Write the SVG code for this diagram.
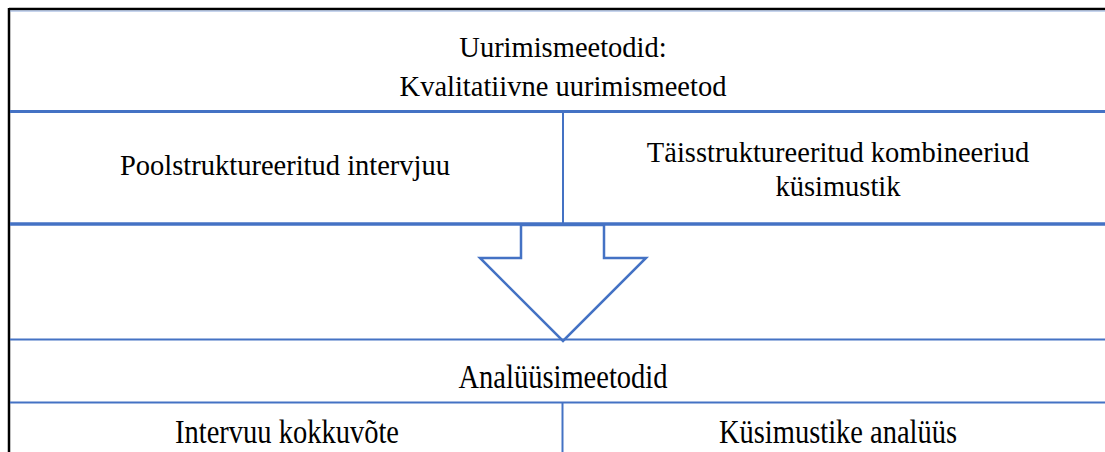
<svg xmlns="http://www.w3.org/2000/svg" width="1105" height="452" viewBox="0 0 1105 452">
<style>
.t{font-family:"Liberation Serif","Times New Roman",serif;font-size:28.5px;fill:#000;text-anchor:middle}
.b{stroke:#4472c4;fill:none}
.k{stroke:#000;stroke-width:2.5;fill:none}
</style>
<rect width="1105" height="452" fill="#fff"/>
<g id="frame">
<line class="k" x1="9" y1="9" x2="1105" y2="9"/>
<line class="k" x1="9" y1="8" x2="9" y2="452"/>
<line x1="10" y1="11" x2="1105" y2="11" stroke="#8eaadb" stroke-width="1"/>
</g>
<g id="connectors">
<line class="b" x1="10" y1="111.5" x2="1105" y2="111.5" stroke-width="3"/>
<line class="b" x1="563" y1="113" x2="563" y2="223" stroke-width="2"/>
<line class="b" x1="10" y1="224" x2="1105" y2="224" stroke-width="3.5"/>
<line class="b" x1="10" y1="339.5" x2="1105" y2="339.5" stroke-width="2"/>
<line class="b" x1="10" y1="402.5" x2="1105" y2="402.5" stroke-width="2"/>
<line class="b" x1="562.5" y1="403" x2="562.5" y2="452" stroke-width="2"/>
</g>
<g id="arrow">
<polygon class="b" stroke-width="2.5" points="521,225 604,225 604,258 646,258 563,341 480,258 521,258"/>
</g>
<g id="node-uurimismeetodid">
<text class="t" x="563" y="57">Uurimismeetodid:</text>
<text class="t" x="563" y="96">Kvalitatiivne uurimismeetod</text>
</g>
<g id="node-poolstruktureeritud">
<text class="t" x="285" y="175">Poolstruktureeritud intervjuu</text>
</g>
<g id="node-taisstruktureeritud">
<text class="t" x="838" y="162">Täisstruktureeritud kombineeriud</text>
<text class="t" x="838" y="196">küsimustik</text>
</g>
<g id="node-analuusimeetodid">
<text class="t" transform="translate(563,388) scale(1,1.15)">Analüüsimeetodid</text>
</g>
<g id="node-intervuu">
<text class="t" transform="translate(287,443) scale(1,1.15)">Intervuu kokkuvõte</text>
</g>
<g id="node-kusimustike">
<text class="t" transform="translate(838,443) scale(1,1.15)">Küsimustike analüüs</text>
</g>
</svg>
